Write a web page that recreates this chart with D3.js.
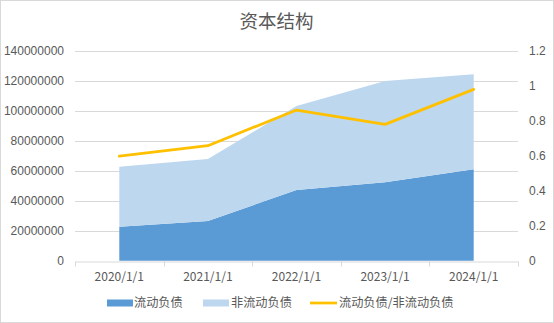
<!DOCTYPE html>
<html><head><meta charset="utf-8">
<script src="https://cdn.jsdelivr.net/npm/d3@7/dist/d3.min.js"></script>
<style>
html,body{margin:0;padding:0;background:#fff;}
svg{display:block;font-family:"Noto Sans CJK SC","Microsoft YaHei",sans-serif;}
</style></head>
<body>
<svg id="c" width="554" height="323"></svg>
<script>
const categories = ["2020/1/1","2021/1/1","2022/1/1","2023/1/1","2024/1/1"];
const currentLiab = [22700000, 26500000, 47100000, 52300000, 60900000];
const nonCurrentLiab = [40000000, 41300000, 56000000, 67500000, 63400000];
const ratio = [0.597, 0.657, 0.861, 0.779, 0.979];
const leftTicks = [0,20000000,40000000,60000000,80000000,100000000,120000000,140000000];
const rightTicks = [0,0.2,0.4,0.6,0.8,1,1.2];
const seriesNames = ["流动负债","非流动负债","流动负债/非流动负债"];
const colors = ["#5b9bd5","#bdd7ee","#ffc000"];

const svg = d3.select("#c");
const W=554,H=323;
const m={l:75,r:518,t:50.7,b:260.7};
const textColor="#595959";

svg.append("rect").attr("x",0.5).attr("y",0.5).attr("width",W-1).attr("height",H-1)
  .attr("fill","#fff").attr("stroke","#d9d9d9");

const x = d3.scaleBand().domain(categories).range([m.l,m.r]).padding(0);
const y = d3.scaleLinear().domain([0,140000000]).range([m.b,m.t]);
const y2 = d3.scaleLinear().domain([0,1.2]).range([m.b,m.t]);
const cx = d=>x(d)+x.bandwidth()/2;

// gridlines
svg.append("g").selectAll("line").data(leftTicks.slice(1)).join("line")
  .attr("x1",m.l).attr("x2",m.r).attr("y1",d=>Math.round(y(d))+0.5).attr("y2",d=>Math.round(y(d))+0.5)
  .attr("stroke","#d9d9d9").attr("stroke-width",1);

// stacked areas
const rows = categories.map((c,i)=>({c, a:currentLiab[i], b:nonCurrentLiab[i]}));
const stack = d3.stack().keys(["a","b"])(rows);
const area = d3.area().x(d=>cx(d.data.c)).y0(d=>y(d[0])).y1(d=>y(d[1]));
svg.append("g").selectAll("path").data(stack).join("path")
  .attr("d",area).attr("fill",(d,i)=>colors[i]);

// ratio line
const line = d3.line().x((d,i)=>cx(categories[i])).y(d=>y2(d));
svg.append("path").datum(ratio).attr("d",line).attr("fill","none")
  .attr("stroke",colors[2]).attr("stroke-width",2.75).attr("stroke-linejoin","round").attr("stroke-linecap","round");

// x axis
const xa = svg.append("g").attr("transform",`translate(0,${Math.round(m.b)+0.5})`)
  .call(d3.axisBottom(x).tickSize(0).tickPadding(11));
xa.select(".domain").attr("stroke","#d9d9d9");
xa.selectAll("text").attr("fill",textColor).style("font-size","12px").style("font-family","'Noto Sans CJK SC',sans-serif");
// category boundary ticks
const bounds = categories.map(c=>x(c)).concat([m.r]);
xa.selectAll(".bt").data(bounds).join("line").attr("class","bt")
  .attr("x1",d=>Math.round(d)+0.5).attr("x2",d=>Math.round(d)+0.5).attr("y1",0).attr("y2",5)
  .attr("stroke","#d9d9d9");

// left axis
const ya = svg.append("g").attr("transform",`translate(${m.l},0)`)
  .call(d3.axisLeft(y).tickValues(leftTicks).tickFormat(d3.format("d")).tickSize(0).tickPadding(11));
ya.select(".domain").remove();
ya.selectAll("text").attr("fill",textColor).style("font-size","12px");

// right axis
const yb = svg.append("g").attr("transform",`translate(${m.r},0)`)
  .call(d3.axisRight(y2).tickValues(rightTicks).tickFormat(d=>String(+d.toFixed(1))).tickSize(0).tickPadding(11));
yb.select(".domain").remove();
yb.selectAll("text").attr("fill",textColor).style("font-size","12px");

// title
svg.append("text").attr("x",276.5).attr("y",28).attr("text-anchor","middle")
  .attr("fill",textColor).style("font-size","18.5px").text("资本结构");

// legend
const ly = 303;
const lg = svg.append("g");
lg.append("rect").attr("x",107).attr("y",ly-3.5).attr("width",26).attr("height",7).attr("fill",colors[0]);
lg.append("text").attr("x",134).attr("y",ly+4.3).attr("fill",textColor).style("font-size","12.2px").text(seriesNames[0]);
lg.append("rect").attr("x",203).attr("y",ly-3.5).attr("width",26).attr("height",7).attr("fill",colors[1]);
lg.append("text").attr("x",231).attr("y",ly+4.3).attr("fill",textColor).style("font-size","12.2px").text(seriesNames[1]);
lg.append("line").attr("x1",310).attr("x2",337).attr("y1",ly).attr("y2",ly).attr("stroke",colors[2]).attr("stroke-width",2.75);
lg.append("text").attr("x",339).attr("y",ly+4.3).attr("fill",textColor).style("font-size","12.2px").text(seriesNames[2]);
</script>
</body></html>
